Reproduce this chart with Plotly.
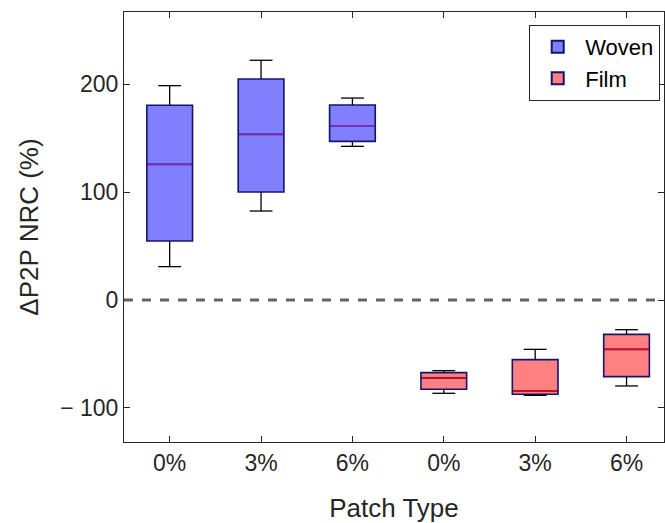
import plotly.graph_objects as go

positions = [1, 2, 3, 4, 5, 6]
tick_labels = ["0%", "3%", "6%", "0%", "3%", "6%"]
groups = ["Woven", "Woven", "Woven", "Film", "Film", "Film"]

q1 = [54.6, 100.0, 146.9, -82.7, -87.3, -71.0]
median = [125.6, 153.4, 161.4, -72.2, -84.3, -45.7]
q3 = [180.3, 204.6, 180.6, -67.3, -55.2, -31.8]
lower = [30.9, 82.4, 142.3, -86.4, -88.3, -79.6]
upper = [198.5, 222.0, 187.0, -65.4, -45.7, -27.5]

fill = {"Woven": "rgb(128,128,255)", "Film": "rgb(255,128,128)"}
med_col = {"Woven": "rgb(160,30,170)", "Film": "rgb(255,0,0)"}

fig = go.Figure()
half = 0.25
cap = 0.125
shown = set()
for i, p in enumerate(positions):
    g = groups[i]
    fig.add_trace(go.Scatter(
        x=[p, p, None, p - cap, p + cap, None, p, p, None, p - cap, p + cap],
        y=[q3[i], upper[i], None, upper[i], upper[i], None, q1[i], lower[i], None, lower[i], lower[i]],
        mode="lines", line=dict(color="black", width=1.3), showlegend=False, hoverinfo="skip"))
    fig.add_trace(go.Box(
        x=[p], q1=[q1[i]], median=[median[i]], q3=[q3[i]],
        lowerfence=[q1[i]], upperfence=[q3[i]],
        width=0.5, fillcolor=fill[g], line=dict(color="rgb(20,20,110)", width=1.6),
        name=g, legendgroup=g, showlegend=g not in shown))
    shown.add(g)
    fig.add_trace(go.Scatter(
        x=[p - half + 0.01, p + half - 0.01], y=[median[i], median[i]],
        mode="lines", line=dict(color=med_col[g], width=1.3), showlegend=False, hoverinfo="skip"))

fig.add_shape(type="line", xref="paper", x0=0, x1=1, yref="y", y0=0, y1=0,
              line=dict(color="rgb(100,100,100)", width=3, dash="dash"))

fig.update_layout(
    width=665, height=523,
    margin=dict(l=124, r=1, t=12, b=81),
    paper_bgcolor="white", plot_bgcolor="white",
    font=dict(family="Liberation Sans, Arial, sans-serif", size=23, color="#262626"),
    showlegend=True,
    legend=dict(x=0.993, y=0.97, xanchor="right", yanchor="top",
                bgcolor="white", bordercolor="#262626", borderwidth=1,
                font=dict(size=22, color="black"), tracegroupgap=0,
                itemsizing="constant", itemwidth=45),
    xaxis=dict(range=[0.5, 6.41], tickvals=positions, ticktext=tick_labels,
               ticks="inside", ticklen=6, tickcolor="#262626",
               showline=True, linecolor="#262626", linewidth=1, mirror="ticks",
               showgrid=False, zeroline=False, automargin=False,
               title=dict(text="Patch Type", font=dict(size=26), standoff=24)),
    yaxis=dict(range=[-131.5, 266.7], tickvals=[-100, 0, 100, 200],
               ticktext=["\u2212 100", "0", "100", "200"],
               ticks="inside", ticklen=6, tickcolor="#262626",
               showline=True, linecolor="#262626", linewidth=1, mirror="ticks",
               showgrid=False, zeroline=False, automargin=False,
               title=dict(text="\u0394P2P NRC (%)", font=dict(size=26), standoff=14)),
)

fig.write_html("out.html", config={"displayModeBar": False},
               post_script="document.body.style.margin='0px';")
